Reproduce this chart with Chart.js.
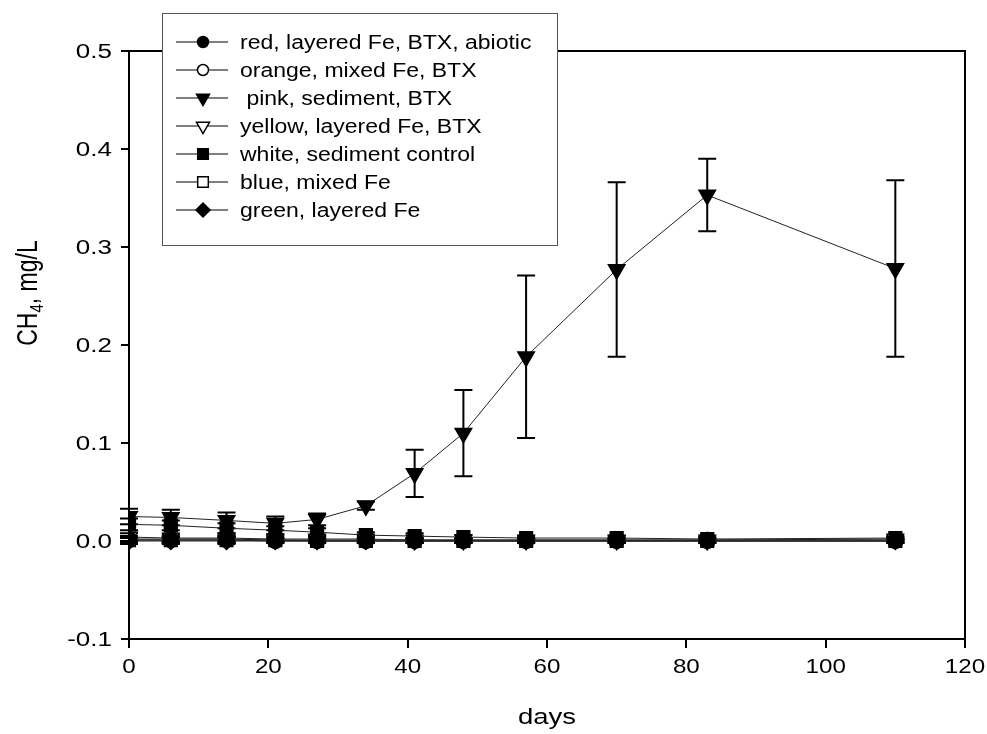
<!DOCTYPE html>
<html>
<head>
<meta charset="utf-8">
<script src="https://cdn.jsdelivr.net/npm/chart.js@4.4.1/dist/chart.umd.min.js"></script>
<style>
  html, body { margin: 0; padding: 0; background: #fff; }
  #wrap { width: 987px; height: 734px; }
</style>
</head>
<body>
<div id="wrap"><canvas id="ch4Chart" width="987" height="734"></canvas></div>
<script>
// sampling days
const days = [0, 6, 14, 21, 27, 34, 41, 48, 57, 70, 83, 110];

const seriesNames = [
    'red, layered Fe, BTX, abiotic',
    'orange, mixed Fe, BTX',
    ' pink, sediment, BTX',
    'yellow, layered Fe, BTX',
    'white, sediment control',
    'blue, mixed Fe',
    'green, layered Fe'
];

// CH4 in mg/L
const redVals    = [0.001, 0.001, 0.001, 0.000, 0.000, 0.000, 0.000, 0.000, 0.000, 0.000, 0.000, 0.000];
const orangeVals = [0.002, 0.002, 0.002, 0.001, 0.001, 0.001, 0.001, 0.001, 0.001, 0.001, 0.001, 0.001];
const pinkVals   = [0.025, 0.024, 0.021, 0.018, 0.022, 0.036, 0.069, 0.110, 0.188, 0.277, 0.353, 0.278];
const yellowVals = [0.004, 0.003, 0.003, 0.002, 0.002, 0.002, 0.001, 0.001, 0.001, 0.001, 0.001, 0.002];
const whiteVals  = [0.017, 0.016, 0.013, 0.011, 0.009, 0.006, 0.005, 0.004, 0.003, 0.003, 0.002, 0.003];
const blueVals   = [0.001, 0.001, 0.001, 0.001, 0.000, 0.000, 0.000, 0.000, 0.000, 0.000, 0.000, 0.000];
const greenVals  = [0.000, 0.000, 0.000, 0.000, 0.000, 0.000, 0.000, 0.000, 0.000, 0.000, 0.000, 0.000];

// error bars (+/-)
const redErr    = [0.003, 0.003, 0.003, 0.002, 0.002, 0.002, 0.002, 0.002, 0.002, 0.002, 0.002, 0.002];
const orangeErr = [0.003, 0.003, 0.003, 0.002, 0.002, 0.002, 0.002, 0.002, 0.002, 0.002, 0.002, 0.002];
const pinkErr   = [0.008, 0.008, 0.008, 0.007, 0.006, 0.004, 0.024, 0.044, 0.083, 0.089, 0.037, 0.090];
const yellowErr = [0.004, 0.004, 0.003, 0.003, 0.003, 0.003, 0.002, 0.002, 0.002, 0.002, 0.002, 0.002];
const whiteErr  = [0.006, 0.005, 0.005, 0.004, 0.004, 0.003, 0.003, 0.002, 0.002, 0.002, 0.002, 0.002];
const blueErr   = [0.003, 0.003, 0.003, 0.002, 0.002, 0.002, 0.002, 0.002, 0.002, 0.002, 0.002, 0.002];
const greenErr  = [0.003, 0.003, 0.003, 0.002, 0.002, 0.002, 0.002, 0.002, 0.002, 0.002, 0.002, 0.002];

const allVals = [redVals, orangeVals, pinkVals, yellowVals, whiteVals, blueVals, greenVals];
const allErr  = [redErr, orangeErr, pinkErr, yellowErr, whiteErr, blueErr, greenErr];

const yTicks = [-0.1, 0.0, 0.1, 0.2, 0.3, 0.4, 0.5];
const xTicks = [0, 20, 40, 60, 80, 100, 120];

// marker look per series
const markers = [
    { style: 'circle',   fill: '#000', rot: 0,   r: 7.5, lr: 5.5 },
    { style: 'circle',   fill: '#fff', rot: 0,   r: 7.5, lr: 5.5 },
    { style: 'triangle', fill: '#000', rot: 180, r: 9.5, lr: 7.5 },
    { style: 'triangle', fill: '#fff', rot: 180, r: 9.5, lr: 7.5 },
    { style: 'rect',     fill: '#000', rot: 0,   r: 9, lr: 7.5 },
    { style: 'rect',     fill: '#fff', rot: 0,   r: 9, lr: 7.5 },
    { style: 'rectRot',  fill: '#000', rot: 0,   r: 8.5, lr: 7 }
];

const FONT = "'Liberation Sans', Arial, sans-serif";

// the picture's lettering is wider than plain Arial
function wideText(ctx, text, x, y, align, size, sx) {
    ctx.save();
    ctx.translate(x, y);
    ctx.scale(sx, 1);
    ctx.font = size + 'px ' + FONT;
    ctx.textAlign = align;
    ctx.textBaseline = 'middle';
    ctx.fillText(text, 0, 0);
    ctx.restore();
}

const datasets = seriesNames.map((name, i) => ({
    label: name,
    data: days.map((d, j) => ({ x: d, y: allVals[i][j] })),
    borderColor: '#222',
    borderWidth: 1,
    backgroundColor: markers[i].fill,
    pointStyle: markers[i].style,
    pointRotation: markers[i].rot,
    pointRadius: markers[i].r,
    pointBackgroundColor: markers[i].fill,
    pointBorderColor: '#000',
    pointBorderWidth: 1.5,
    fill: false,
    tension: 0
}));

// error bars, drawn under the markers
const errorBars = {
    id: 'errorBars',
    beforeDatasetsDraw(chart) {
        const { ctx, scales: { x, y } } = chart;
        ctx.save();
        ctx.strokeStyle = '#000';
        ctx.lineWidth = 2;
        allVals.forEach((vals, i) => {
            vals.forEach((v, j) => {
                const px = x.getPixelForValue(days[j]);
                const top = y.getPixelForValue(v + allErr[i][j]);
                const bot = y.getPixelForValue(v - allErr[i][j]);
                ctx.beginPath();
                ctx.moveTo(px, top); ctx.lineTo(px, bot);
                ctx.moveTo(px - 9, top); ctx.lineTo(px + 9, top);
                ctx.moveTo(px - 9, bot); ctx.lineTo(px + 9, bot);
                ctx.stroke();
            });
        });
        ctx.restore();
    }
};

// frame, tick labels, axis titles and the boxed legend
const decorations = {
    id: 'decorations',
    afterDraw(chart) {
        const { ctx, chartArea: a, scales: { x, y } } = chart;
        ctx.save();
        ctx.strokeStyle = '#000';
        ctx.lineWidth = 2;
        ctx.beginPath();
        ctx.moveTo(a.left, a.top); ctx.lineTo(a.right, a.top); ctx.lineTo(a.right, a.bottom);
        ctx.stroke();

        ctx.fillStyle = '#000';
        yTicks.forEach(v => wideText(ctx, v.toFixed(1), 112, y.getPixelForValue(v) + 1, 'right', 20, 1.3));
        xTicks.forEach(v => wideText(ctx, String(v), x.getPixelForValue(v), 667, 'center', 21, 1.15));

        // axis titles
        wideText(ctx, 'days', (a.left + a.right) / 2, 718, 'center', 22, 1.25);

        ctx.save();
        ctx.translate(28, 293);
        ctx.rotate(-Math.PI / 2);
        ctx.scale(1, 1.25);
        ctx.textAlign = 'left';
        ctx.textBaseline = 'alphabetic';
        const p1 = 'CH', p2 = '4', p3 = ', mg/L';
        ctx.font = '23px ' + FONT;
        const w1 = ctx.measureText(p1).width, w3 = ctx.measureText(p3).width;
        ctx.font = '15px ' + FONT;
        const w2 = ctx.measureText(p2).width;
        const sx = -(w1 + w2 + w3) / 2;
        ctx.font = '23px ' + FONT;
        ctx.fillText(p1, sx, 7);
        ctx.font = '15px ' + FONT;
        ctx.fillText(p2, sx + w1, 12);
        ctx.font = '23px ' + FONT;
        ctx.fillText(p3, sx + w1 + w2, 7);
        ctx.restore();

        // legend box
        const bx = 162, by = 13, bw = 395, bh = 232;
        ctx.fillStyle = '#fff';
        ctx.fillRect(bx, by, bw, bh);
        ctx.strokeStyle = '#555';
        ctx.lineWidth = 1;
        ctx.strokeRect(bx + 0.5, by + 0.5, bw, bh);

        seriesNames.forEach((name, i) => {
            const cy = 42 + i * 28;
            ctx.strokeStyle = '#000';
            ctx.lineWidth = 1;
            ctx.beginPath();
            ctx.moveTo(176, cy); ctx.lineTo(228, cy);
            ctx.stroke();
            ctx.fillStyle = markers[i].fill;
            ctx.lineWidth = 1.5;
            Chart.helpers.drawPoint(ctx, {
                pointStyle: markers[i].style,
                rotation: markers[i].rot,
                radius: markers[i].lr,
                borderWidth: 1.5
            }, 203, cy);
            ctx.fillStyle = '#000';
            wideText(ctx, name, 240, cy + 1, 'left', 20, 1.15);
        });
        ctx.restore();
    }
};

new Chart(document.getElementById('ch4Chart').getContext('2d'), {
    type: 'line',
    data: { datasets: datasets },
    options: {
        responsive: false,
        animation: false,
        layout: { padding: { top: 51, right: 22, left: 0, bottom: 0 } },
        plugins: {
            legend: { display: false },
            tooltip: { enabled: false }
        },
        scales: {
            x: {
                type: 'linear',
                min: 0,
                max: 120,
                afterFit: (scale) => { scale.height = 95; },
                afterBuildTicks: (scale) => { scale.ticks = xTicks.map(v => ({ value: v })); },
                grid: { drawOnChartArea: false, drawTicks: true, tickLength: 9, color: '#000', lineWidth: 2 },
                border: { display: true, color: '#000', width: 2 },
                ticks: { display: false }
            },
            y: {
                type: 'linear',
                min: -0.1,
                max: 0.5,
                afterFit: (scale) => { scale.width = 129; },
                afterBuildTicks: (scale) => { scale.ticks = yTicks.map(v => ({ value: v })); },
                grid: { drawOnChartArea: false, drawTicks: true, tickLength: 8, color: '#000', lineWidth: 2 },
                border: { display: true, color: '#000', width: 2 },
                ticks: { display: false }
            }
        }
    },
    plugins: [errorBars, decorations]
});
</script>
</body>
</html>
